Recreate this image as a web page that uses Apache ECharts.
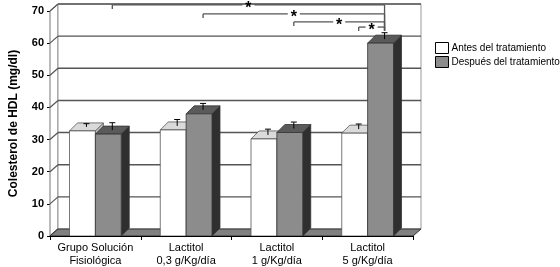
<!DOCTYPE html>
<html>
<head>
<meta charset="utf-8">
<script src="https://cdn.jsdelivr.net/npm/echarts@6/dist/echarts.min.js"></script>
<style>
  html, body { margin: 0; padding: 0; background: #fff; }
  #chart { width: 560px; height: 267px; }
</style>
</head>
<body>
<div id="chart"></div>
<script>
// datos
const categorias = ['Grupo Solución\nFisiológica', 'Lactitol\n0,3 g/Kg/día', 'Lactitol\n1 g/Kg/día', 'Lactitol\n5 g/Kg/día'];
const antes = [32.7, 33.0, 30.2, 32.0];
const despues = [31.7, 38.0, 32.2, 60.0];
const errAntes = [1.0, 2.0, 1.8, 1.6];
const errDespues = [2.3, 2.0, 2.0, 2.0];
const marcasY = [0, 10, 20, 30, 40, 50, 60, 70];
// comparaciones (*): [categoria, serie 0=antes 1=despues] contra Lactitol 5 g despues
const compDesde = [[0, 1], [1, 1], [2, 1], [3, 0]];
const compHasta = [3, 1];
const compNivel = [71.9, 69.1, 66.6, 65.0];

const FONT = 'Liberation Sans, Arial, sans-serif';
const DX = 8, DY = 8;   // profundidad de las barras
const WX = 8, WY = 7;   // profundidad de las paredes

const chart = echarts.init(document.getElementById('chart'));

function anchoBarra(api) {
  return api.size([1, 0])[0] * 0.285;
}

// paredes, suelo y lineas de division
function escena(params, api) {
  const cs = params.coordSys;
  const xl = cs.x, xr = cs.x + cs.width;
  const yb = cs.y + cs.height, yt = cs.y;
  const hijos = [];
  // pared lateral
  hijos.push({ type: 'polygon', shape: { points: [[xl, yb], [xl, yt], [xl + WX, yt - WY], [xl + WX, yb - WY]] },
    style: { fill: '#fff', stroke: '#777', lineWidth: 1 } });
  // pared del fondo
  hijos.push({ type: 'rect', shape: { x: xl + WX, y: yt - WY, width: cs.width, height: cs.height },
    style: { fill: '#fff', stroke: '#999', lineWidth: 1 } });
  marcasY.forEach(function (v) {
    const y = api.coord([0, v])[1];
    hijos.push({ type: 'line', shape: { x1: xl, y1: y, x2: xl + WX, y2: y - WY }, style: { stroke: '#555', lineWidth: 1.2 } });
    if (v > 0) {
      hijos.push({ type: 'line', shape: { x1: xl + WX, y1: y - WY, x2: xr + WX, y2: y - WY }, style: { stroke: '#555', lineWidth: 1.4 } });
    }
  });
  // suelo
  hijos.push({ type: 'polygon', shape: { points: [[xl, yb], [xr, yb], [xr + WX, yb - WY], [xl + WX, yb - WY]] },
    style: { fill: '#808080', stroke: '#333', lineWidth: 1 } });
  return { type: 'group', children: hijos };
}

function barras(lado, col) {
  return function (params, api) {
    const i = api.value(0);
    const base = api.coord([i, 0]);
    const top = api.coord([i, api.value(1)]);
    const tope = api.coord([i, api.value(1) + api.value(2)]);
    const w = anchoBarra(api);
    const x0 = lado === 0 ? base[0] - w : base[0];
    const x1 = x0 + w;
    const yt = top[1], yb = base[1];
    const cx = x0 + w / 2 + DX / 2;
    const cy = yt - DY / 2;
    const ce = tope[1] - DY / 2;
    return { type: 'group', children: [
      { type: 'polygon', shape: { points: [[x1, yb], [x1 + DX, yb - DY], [x1 + DX, yt - DY], [x1, yt]] },
        style: { fill: col.side, stroke: col.line, lineWidth: 0.8 } },
      { type: 'polygon', shape: { points: [[x0, yt], [x0 + DX, yt - DY], [x1 + DX, yt - DY], [x1, yt]] },
        style: { fill: col.top, stroke: col.line, lineWidth: 0.8 } },
      { type: 'rect', shape: { x: x0, y: yt, width: w, height: yb - yt },
        style: { fill: col.front, stroke: col.line, lineWidth: 0.8 } },
      { type: 'line', shape: { x1: cx, y1: cy, x2: cx, y2: ce }, style: { stroke: '#000', lineWidth: 1 } },
      { type: 'line', shape: { x1: cx - 3, y1: ce, x2: cx + 3, y2: ce }, style: { stroke: '#000', lineWidth: 1 } }
    ] };
  };
}

// corchetes de significacion
function corchetes(params, api) {
  const w = anchoBarra(api);
  function posX(cat, lado) {
    return api.coord([cat, 0])[0] + (lado === 0 ? -w : 0) + w / 2 + DX / 2;
  }
  const xa = posX(api.value(0), api.value(1));
  const xb = posX(compHasta[0], compHasta[1]);
  const y = api.coord([0, api.value(2)])[1];
  const k = compHasta[1] === 1 ? despues[compHasta[0]] + errDespues[compHasta[0]] : antes[compHasta[0]] + errAntes[compHasta[0]];
  const yFin = api.coord([0, k])[1] - DY / 2 - 2;
  const xm = (xa + xb) / 2;
  const est = { stroke: '#555', lineWidth: 1.3 };
  return { type: 'group', children: [
    { type: 'line', shape: { x1: xa, y1: y + 4, x2: xa, y2: y }, style: est },
    { type: 'line', shape: { x1: xa, y1: y, x2: xm - 6, y2: y }, style: est },
    { type: 'line', shape: { x1: xm + 6, y1: y, x2: xb, y2: y }, style: est },
    { type: 'line', shape: { x1: xb, y1: y, x2: xb, y2: yFin }, style: est },
    { type: 'text', style: { text: '*', x: xm, y: y + 4, align: 'center', verticalAlign: 'middle',
      font: 'bold 16px ' + FONT, fill: '#000' } }
  ] };
}

const colBlanco = { front: '#ffffff', top: '#dadada', side: '#c4c4c4', line: '#555' };
const colGris = { front: '#8c8c8c', top: '#5a5a5a', side: '#2f2f2f', line: '#333' };

const option = {
  animation: false,
  backgroundColor: '#fff',
  textStyle: { fontFamily: FONT },
  legend: {
    orient: 'vertical',
    left: 430,
    top: 37,
    itemWidth: 13,
    itemHeight: 11,
    itemGap: 2,
    icon: 'rect',
    textStyle: { fontSize: 10, color: '#000', fontFamily: FONT, padding: [0, 0, 0, -2] },
    data: [
      { name: 'Antes del tratamiento', itemStyle: { color: '#fff', borderColor: '#000', borderWidth: 1 } },
      { name: 'Después del tratamiento', itemStyle: { color: '#8c8c8c', borderColor: '#000', borderWidth: 1 } }
    ]
  },
  grid: { left: 48, right: 147, top: 11, bottom: 31 },
  xAxis: {
    type: 'category',
    data: categorias,
    axisLine: { show: true, lineStyle: { color: '#000', width: 1 } },
    axisTick: { show: true, length: 4, lineStyle: { color: '#000' } },
    axisLabel: { interval: 0, fontSize: 11, color: '#000', margin: 5, lineHeight: 13, fontFamily: FONT },
    z: 10
  },
  yAxis: {
    type: 'value',
    min: 0,
    max: 70,
    interval: 10,
    name: 'Colesterol de HDL (mg/dl)',
    nameLocation: 'middle',
    nameGap: 30,
    nameTextStyle: { fontSize: 12, fontWeight: 'bold', color: '#000', fontFamily: FONT },
    axisLine: { show: true, lineStyle: { color: '#000', width: 1 } },
    axisTick: { show: true, length: 3, lineStyle: { color: '#000' } },
    axisLabel: { fontSize: 11, fontWeight: 'bold', color: '#000', margin: 6, fontFamily: FONT },
    splitLine: { show: false }
  },
  series: [
    {
      type: 'custom',
      silent: true,
      renderItem: escena,
      data: [[0, 0]],
      z: 1
    },
    {
      name: 'Antes del tratamiento',
      type: 'custom',
      renderItem: barras(0, colBlanco),
      encode: { x: 0, y: 1 },
      itemStyle: { color: '#fff', borderColor: '#000' },
      data: antes.map(function (v, i) { return [i, v, errAntes[i]]; }),
      z: 2
    },
    {
      name: 'Después del tratamiento',
      type: 'custom',
      renderItem: barras(1, colGris),
      encode: { x: 0, y: 1 },
      itemStyle: { color: '#8c8c8c', borderColor: '#000' },
      data: despues.map(function (v, i) { return [i, v, errDespues[i]]; }),
      z: 3
    },
    {
      type: 'custom',
      silent: true,
      renderItem: corchetes,
      encode: { x: 0, y: 2 },
      data: compDesde.map(function (d, k) { return [d[0], d[1], compNivel[k]]; }),
      z: 4
    }
  ]
};

chart.setOption(option);
</script>
</body>
</html>
